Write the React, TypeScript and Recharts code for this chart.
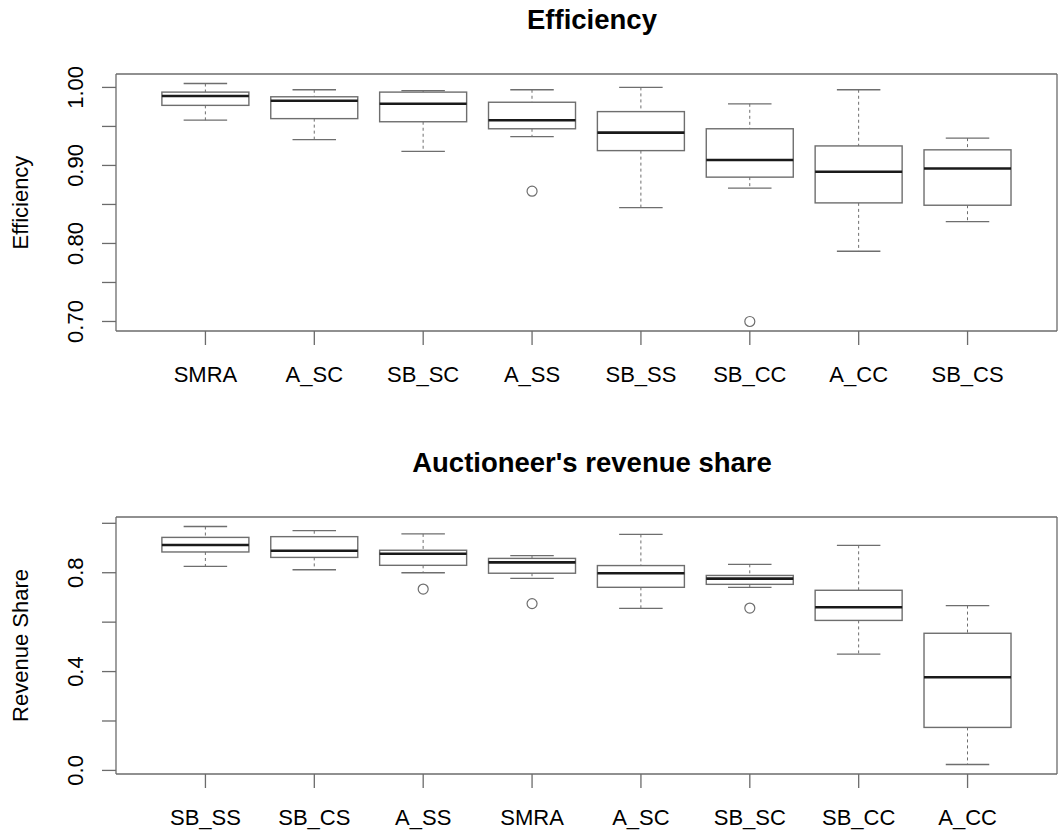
import React from "react";
import { ComposedChart, Bar, Line, XAxis, YAxis } from "recharts";

// ---- Efficiency (upper panel) ----
const effCategories = ["SMRA", "A_SC", "SB_SC", "A_SS", "SB_SS", "SB_CC", "A_CC", "SB_CS"];
const effLow = [0.958, 0.933, 0.918, 0.937, 0.846, 0.871, 0.79, 0.828];
const effQ1 = [0.977, 0.96, 0.956, 0.947, 0.919, 0.885, 0.852, 0.849];
const effMedian = [0.989, 0.983, 0.979, 0.958, 0.942, 0.907, 0.892, 0.896];
const effQ3 = [0.994, 0.988, 0.994, 0.981, 0.969, 0.947, 0.925, 0.92];
const effHigh = [1.005, 0.997, 0.996, 0.997, 1.0, 0.979, 0.997, 0.935];
const effOutlier: (number | null)[] = [null, null, null, 0.867, null, 0.7, null, null];
const effTicks = [0.7, 0.75, 0.8, 0.85, 0.9, 0.95, 1.0];
const effTickLabels = ["0.70", "", "0.80", "", "0.90", "", "1.00"];

// ---- Auctioneer's revenue share (lower panel) ----
const revCategories = ["SB_SS", "SB_CS", "A_SS", "SMRA", "A_SC", "SB_SC", "SB_CC", "A_CC"];
const revLow = [0.826, 0.812, 0.8, 0.777, 0.656, 0.741, 0.471, 0.024];
const revQ1 = [0.884, 0.862, 0.83, 0.798, 0.741, 0.753, 0.607, 0.174];
const revMedian = [0.912, 0.889, 0.877, 0.842, 0.798, 0.776, 0.66, 0.377];
const revQ3 = [0.943, 0.946, 0.891, 0.858, 0.829, 0.789, 0.729, 0.555];
const revHigh = [0.987, 0.97, 0.957, 0.869, 0.955, 0.834, 0.911, 0.667];
const revOutlier: (number | null)[] = [null, null, 0.734, 0.675, null, 0.657, null, null];
const revTicks = [0, 0.2, 0.4, 0.6, 0.8, 1.0];
const revTickLabels = ["0.0", "", "0.4", "", "0.8", ""];

const FONT = "'Liberation Sans', Arial, Helvetica, sans-serif";
const FRAME = "#6b6b6b";

type Row = {
  name: string;
  lo: number;
  q1: number;
  med: number;
  q3: number;
  hi: number;
  outlier: number | null;
  range: [number, number];
};

function buildRows(
  cats: string[],
  lo: number[],
  q1: number[],
  med: number[],
  q3: number[],
  hi: number[],
  out: (number | null)[]
): Row[] {
  return cats.map((name, i) => ({
    name,
    lo: lo[i],
    q1: q1[i],
    med: med[i],
    q3: q3[i],
    hi: hi[i],
    outlier: out[i],
    range: [lo[i], hi[i]],
  }));
}

// Data range padded by 4% on each side, like a default base-graphics axis
function paddedDomain(rows: Row[]): [number, number] {
  const vals: number[] = [];
  rows.forEach((r) => {
    vals.push(r.lo, r.hi);
    if (r.outlier != null) vals.push(r.outlier);
  });
  const mn = Math.min(...vals);
  const mx = Math.max(...vals);
  const pad = (mx - mn) * 0.04;
  return [mn - pad, mx + pad];
}

// One box-and-whisker glyph, drawn inside the whisker-range bar
const BoxShape = (props: any) => {
  const { x, y, width, height, payload } = props;
  if (!payload || x == null || y == null) return <g />;
  const top = Math.min(y, y + height);
  const bottom = Math.max(y, y + height);
  const span = payload.hi - payload.lo;
  const k = span > 0 ? (bottom - top) / span : 0;
  const py = (v: number) => top + (payload.hi - v) * k;
  const cx = x + width / 2;
  const cap = width / 4;
  return (
    <g>
      <line x1={cx} x2={cx} y1={py(payload.hi)} y2={py(payload.q3)} stroke="#6e6e6e" strokeWidth={1} strokeDasharray="3 3" />
      <line x1={cx} x2={cx} y1={py(payload.q1)} y2={py(payload.lo)} stroke="#6e6e6e" strokeWidth={1} strokeDasharray="3 3" />
      <line x1={cx - cap} x2={cx + cap} y1={py(payload.hi)} y2={py(payload.hi)} stroke="#6e6e6e" strokeWidth={1.3} />
      <line x1={cx - cap} x2={cx + cap} y1={py(payload.lo)} y2={py(payload.lo)} stroke="#6e6e6e" strokeWidth={1.3} />
      <rect
        x={x}
        y={py(payload.q3)}
        width={width}
        height={py(payload.q1) - py(payload.q3)}
        fill="#ffffff"
        stroke="#6e6e6e"
        strokeWidth={1.4}
      />
      <line x1={x} x2={x + width} y1={py(payload.med)} y2={py(payload.med)} stroke="#1a1a1a" strokeWidth={2.6} />
    </g>
  );
};

const OutlierDot = (props: any) => {
  const { cx, cy, value, index } = props;
  if (value == null || cy == null || isNaN(cy)) return <g key={`o-${index}`} />;
  return <circle key={`o-${index}`} cx={cx} cy={cy} r={5} fill="#ffffff" stroke="#6e6e6e" strokeWidth={1.2} />;
};

const CategoryTick = (props: any) => {
  const { x, y, payload } = props;
  return (
    <text x={x} y={y + 37} textAnchor="middle" fontSize={22} fontFamily={FONT} fill="#000">
      {payload.value}
    </text>
  );
};

const makeValueTick = (ticks: number[], labels: string[]) => (props: any) => {
  const { x, y, payload } = props;
  const idx = ticks.findIndex((t) => Math.abs(t - payload.value) < 1e-9);
  const label = idx >= 0 ? labels[idx] : "";
  if (!label) return <g />;
  const tx = x - 19;
  return (
    <text
      x={tx}
      y={y}
      transform={`rotate(-90, ${tx}, ${y})`}
      textAnchor="middle"
      fontSize={22}
      fontFamily={FONT}
      fill="#000"
    >
      {label}
    </text>
  );
};

type PanelProps = {
  rows: Row[];
  ticks: number[];
  tickLabels: string[];
};

const BoxPanel = ({ rows, ticks, tickLabels }: PanelProps) => {
  const domain = paddedDomain(rows);
  const ValueTick = makeValueTick(ticks, tickLabels);
  return (
    <ComposedChart
      width={1058}
      height={391}
      data={rows}
      margin={{ top: 73, right: 0, bottom: 0, left: 0 }}
      barCategoryGap="10%"
    >
      <XAxis
        dataKey="name"
        type="category"
        padding={{ left: 35, right: 35 }}
        height={60}
        tickSize={14}
        tickMargin={0}
        interval={0}
        stroke={FRAME}
        strokeWidth={1.3}
        tickLine={{ stroke: FRAME, strokeWidth: 1.3 }}
        tick={<CategoryTick />}
      />
      {/* top and right axes only close the plot frame */}
      <XAxis
        xAxisId="frameTop"
        dataKey="name"
        type="category"
        orientation="top"
        height={1}
        tick={false}
        tickLine={false}
        stroke={FRAME}
        strokeWidth={1.3}
      />
      <YAxis
        type="number"
        domain={domain}
        ticks={ticks}
        interval={0}
        width={116}
        tickSize={14}
        tickMargin={0}
        stroke={FRAME}
        strokeWidth={1.3}
        tickLine={{ stroke: FRAME, strokeWidth: 1.3 }}
        tick={<ValueTick />}
        allowDataOverflow
      />
      <YAxis
        yAxisId="frameRight"
        type="number"
        orientation="right"
        domain={domain}
        width={1}
        tick={false}
        tickLine={false}
        stroke={FRAME}
        strokeWidth={1.3}
        allowDataOverflow
      />
      <Bar dataKey="range" shape={<BoxShape />} activeBar={false} isAnimationActive={false} />
      <Line
        dataKey="outlier"
        stroke="none"
        dot={(p: any) => <OutlierDot {...p} />}
        activeDot={false}
        connectNulls={false}
        isAnimationActive={false}
      />
      {/* invisible series so the frame axes are attached */}
      <Line
        xAxisId="frameTop"
        yAxisId="frameRight"
        dataKey="med"
        stroke="none"
        dot={false}
        activeDot={false}
        isAnimationActive={false}
      />
    </ComposedChart>
  );
};

const effRows = buildRows(effCategories, effLow, effQ1, effMedian, effQ3, effHigh, effOutlier);
const revRows = buildRows(revCategories, revLow, revQ1, revMedian, revQ3, revHigh, revOutlier);

export default function App() {
  return (
    <div
      style={{
        position: "absolute",
        left: 0,
        top: 0,
        width: 1058,
        height: 834,
        background: "#ffffff",
        overflow: "hidden",
      }}
    >
      <div style={{ position: "absolute", left: 0, top: 0 }}>
        <BoxPanel rows={effRows} ticks={effTicks} tickLabels={effTickLabels} />
      </div>
      <div style={{ position: "absolute", left: 0, top: 443 }}>
        <BoxPanel rows={revRows} ticks={revTicks} tickLabels={revTickLabels} />
      </div>
      <svg
        width={1058}
        height={834}
        style={{ position: "absolute", left: 0, top: 0, pointerEvents: "none" }}
      >
        <text x={592} y={29} textAnchor="middle" fontSize={27.5} fontWeight="bold" fontFamily={FONT} fill="#000">
          Efficiency
        </text>
        <text x={592} y={472} textAnchor="middle" fontSize={27.5} fontWeight="bold" fontFamily={FONT} fill="#000">
          Auctioneer's revenue share
        </text>
        <text
          x={28}
          y={202.5}
          transform="rotate(-90, 28, 202.5)"
          textAnchor="middle"
          fontSize={22}
          fontFamily={FONT}
          fill="#000"
        >
          Efficiency
        </text>
        <text
          x={28}
          y={645.5}
          transform="rotate(-90, 28, 645.5)"
          textAnchor="middle"
          fontSize={22}
          fontFamily={FONT}
          fill="#000"
        >
          Revenue Share
        </text>
      </svg>
    </div>
  );
}
